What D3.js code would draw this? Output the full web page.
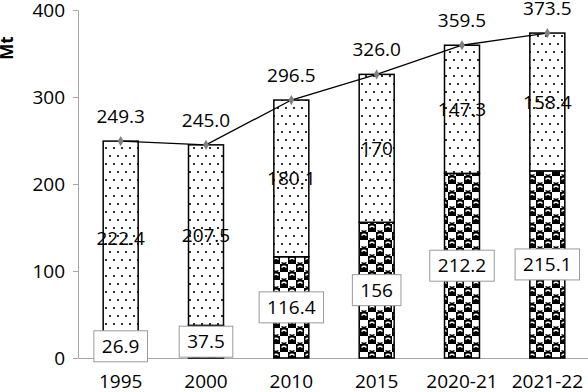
<!DOCTYPE html>
<html>
  <head>
    <meta charset="utf-8">
    <title>Mt by year</title>
    <style>
      body { margin: 0; background: #fff; }
      text { font-family: "Open Sans", sans-serif; }
    </style>
  </head>
  <body>
    <svg id="chart" width="588" height="392"></svg>
    <script src="https://d3js.org/d3.v7.min.js"></script>
    <script>
      years = ['1995', '2000', '2010', '2015', '2020-21', '2021-22']
      bottomValues = [26.9, 37.5, 116.4, 156, 212.2, 215.1]
      topValues = [222.4, 207.5, 180.1, 170, 147.3, 158.4]
      totals = [249.3, 245.0, 296.5, 326.0, 359.5, 373.5]
      topLabels = ['222.4', '207.5', '180.1', '170', '147.3', '158.4']
      bottomLabels = ['26.9', '37.5', '116.4', '156', '212.2', '215.1']
      yTicks = [0, 100, 200, 300, 400]

      width = 588
      height = 392
      margin = {top: 10, right: -2, bottom: 34, left: 78}

      xScale = d3.scaleBand()
        .domain(years)
        .range([margin.left, width - margin.right])
        .paddingInner(0.59)
        .paddingOuter(0.295)
      yScale = d3.scaleLinear()
        .domain([0, 400])
        .range([height - margin.bottom, margin.top])

      const svg = d3.select('#chart')
      const defs = svg.append('defs')

      // dotted fill for the upper part
      const dots = defs.append('pattern')
        .attr('id', 'dots')
        .attr('patternUnits', 'userSpaceOnUse')
        .attr('width', 8).attr('height', 16)
      dots.append('rect').attr('width', 8).attr('height', 16).attr('fill', '#fff')
      dots.append('circle').attr('cx', 2).attr('cy', 4).attr('r', 1.1).attr('fill', '#000')
      dots.append('circle').attr('cx', 6).attr('cy', 12).attr('r', 1.1).attr('fill', '#000')

      // checker of "balls" for the lower part
      const checks = defs.append('pattern')
        .attr('id', 'checks')
        .attr('patternUnits', 'userSpaceOnUse')
        .attr('width', 16).attr('height', 16)
      checks.append('rect').attr('width', 16).attr('height', 16).attr('fill', '#fff')
      checks.append('rect').attr('x', 0).attr('y', 0).attr('width', 8).attr('height', 8).attr('fill', '#000')
      checks.append('rect').attr('x', 8).attr('y', 8).attr('width', 8).attr('height', 8).attr('fill', '#000')
      // highlight arcs inside the dark cells
      checks.append('path').attr('d', 'M1.5,3.5 Q4,1 6.5,3.5 M9.5,11.5 Q12,9 14.5,11.5')
        .attr('stroke', '#fff').attr('stroke-width', 1.2).attr('fill', 'none')
      // small dark caps inside the light cells
      checks.append('path').attr('d', 'M9.5,6.5 Q12,8.5 14.5,6.5 M1.5,14.5 Q4,16.5 6.5,14.5')
        .attr('stroke', '#000').attr('stroke-width', 1.4).attr('fill', 'none')

      const data = years.map((y, i) => ({
        year: y, bottom: bottomValues[i], top: topValues[i], total: totals[i],
        topLabel: topLabels[i], bottomLabel: bottomLabels[i]
      }))

      // axes
      const yAxis = svg.append('g')
        .attr('transform', `translate(${margin.left},0)`)
        .call(d3.axisLeft(yScale).tickValues(yTicks).tickSize(5).tickSizeOuter(0).tickPadding(8))
      yAxis.select('.domain').attr('stroke', '#a6a6a6')
      yAxis.selectAll('.tick line').attr('stroke', '#a6a6a6')
      yAxis.selectAll('.tick text')
        .attr('font-size', 19).attr('fill', '#000')
        .style('font-family', '"Open Sans", sans-serif')

      const xAxis = svg.append('g')
        .attr('transform', `translate(0,${yScale(0)})`)
        .call(d3.axisBottom(xScale).tickSize(0).tickSizeOuter(0).tickPadding(17))
      xAxis.select('.domain').attr('stroke', '#a6a6a6')
      xAxis.selectAll('.tick text')
        .attr('font-size', 19).attr('fill', '#000')
        .style('font-family', '"Open Sans", sans-serif')

      svg.append('text')
        .attr('transform', 'translate(13,48) rotate(-90)')
        .attr('text-anchor', 'middle')
        .attr('font-size', 17)
        .attr('font-weight', 'bold')
        .text('Mt')

      // bars
      const bars = svg.append('g')
      bars.selectAll('rect.low')
        .data(data)
        .join('rect')
          .attr('class', 'low')
          .attr('x', d => xScale(d.year))
          .attr('y', d => yScale(d.bottom))
          .attr('width', xScale.bandwidth())
          .attr('height', d => yScale(0) - yScale(d.bottom))
          .attr('fill', 'url(#checks)')
          .attr('stroke', '#000').attr('stroke-width', 1.5)
      bars.selectAll('rect.high')
        .data(data)
        .join('rect')
          .attr('class', 'high')
          .attr('x', d => xScale(d.year))
          .attr('y', d => yScale(d.bottom + d.top))
          .attr('width', xScale.bandwidth())
          .attr('height', d => yScale(d.bottom) - yScale(d.bottom + d.top))
          .attr('fill', 'url(#dots)')
          .attr('stroke', '#000').attr('stroke-width', 1.5)

      // upper segment labels
      svg.append('g').selectAll('text')
        .data(data)
        .join('text')
          .attr('x', d => xScale(d.year) + xScale.bandwidth() / 2)
          .attr('y', d => yScale(d.bottom + d.top / 2))
          .attr('dy', '0.35em')
          .attr('text-anchor', 'middle')
          .attr('font-size', 19)
          .text(d => d.topLabel)

      // lower segment labels in boxes
      const boxes = svg.append('g').selectAll('g')
        .data(data)
        .join('g')
          .attr('transform', d => `translate(${xScale(d.year) + xScale.bandwidth() / 2},${yScale(d.bottom / 2)})`)
      boxes.append('rect')
        .attr('fill', '#fff').attr('stroke', '#9a9a9a').attr('stroke-width', 1)
      boxes.append('text')
        .attr('dy', '0.35em')
        .attr('text-anchor', 'middle')
        .attr('font-size', 19)
        .text(d => d.bottomLabel)
      boxes.each(function () {
        const g = d3.select(this)
        const w = g.select('text').node().getComputedTextLength()
        g.select('rect')
          .attr('x', -w / 2 - 8).attr('y', -15.5)
          .attr('width', w + 16).attr('height', 31)
      })

      // total line
      const line = d3.line()
        .x(d => xScale(d.year) + xScale.bandwidth() / 2)
        .y(d => yScale(d.total))
      svg.append('path')
        .datum(data)
        .attr('d', line)
        .attr('fill', 'none')
        .attr('stroke', '#000')
        .attr('stroke-width', 1.3)
      svg.append('g').selectAll('path')
        .data(data)
        .join('path')
          .attr('transform', d => `translate(${xScale(d.year) + xScale.bandwidth() / 2},${yScale(d.total)})`)
          .attr('d', d3.symbol(d3.symbolDiamond, 30))
          .attr('fill', '#808080')
      svg.append('g').selectAll('text')
        .data(data)
        .join('text')
          .attr('x', d => xScale(d.year) + xScale.bandwidth() / 2)
          .attr('y', d => yScale(d.total) - 25)
          .attr('dy', '0.35em')
          .attr('text-anchor', 'middle')
          .attr('font-size', 19)
          .text(d => d.total.toFixed(1))
    </script>
  </body>
</html>
